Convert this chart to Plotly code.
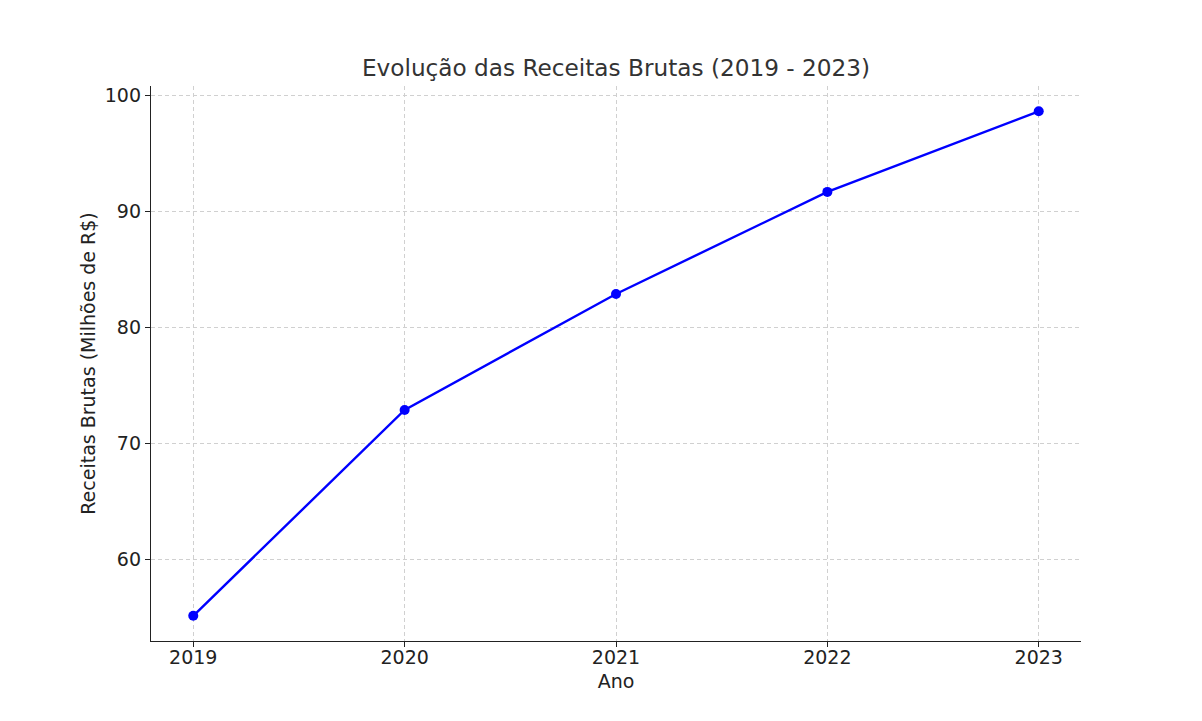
import plotly.graph_objects as go

anos = [2019, 2020, 2021, 2022, 2023]
receitas = [55.1, 72.85, 82.85, 91.65, 98.6]
y_ticks = [60, 70, 80, 90, 100]
x_ticks = [2019, 2020, 2021, 2022, 2023]

FONT = "DejaVu Sans"
fig = go.Figure()
fig.add_trace(go.Scatter(
    x=anos, y=receitas, mode="lines+markers",
    line=dict(color="#0000ff", width=2.4),
    marker=dict(color="#0000ff", size=10),
))

axis_common = dict(
    showline=True, linecolor="#222222", linewidth=1.3,
    ticks="outside", ticklen=5, tickwidth=1.2, tickcolor="#222222",
    showgrid=True, gridcolor="#d0d0d0", griddash="4px,3px", gridwidth=1,
    zeroline=False, mirror=False,
    tickfont=dict(family=FONT, size=19, color="#222222"),
)

# page body has an 8px margin, so the figure is offset by (8, 8)
fig.update_layout(
    width=1202, height=721,
    paper_bgcolor="white", plot_bgcolor="white",
    margin=dict(l=143, r=129, t=78, b=88),
    showlegend=False,
    title=dict(text="Evolução das Receitas Brutas (2019 - 2023)",
               x=(143 + 1073) / 2 / 1202, xanchor="center",
               y=1 - 60 / 721, yanchor="middle",
               font=dict(family=FONT, size=23.2, color="#333333")),
    xaxis=dict(axis_common, range=[2018.8, 2023.2], tickvals=x_ticks,
               ticktext=[str(v) for v in x_ticks], ticklabelstandoff=-6,
               title=dict(text="Ano", standoff=7,
                          font=dict(family=FONT, size=19, color="#222222"))),
    yaxis=dict(axis_common, range=[52.93, 100.78], tickvals=y_ticks,
               title=dict(text="Receitas Brutas (Milhões de R$)", standoff=4,
                          font=dict(family=FONT, size=19, color="#222222"))),
)

fig.write_html("out.html")
